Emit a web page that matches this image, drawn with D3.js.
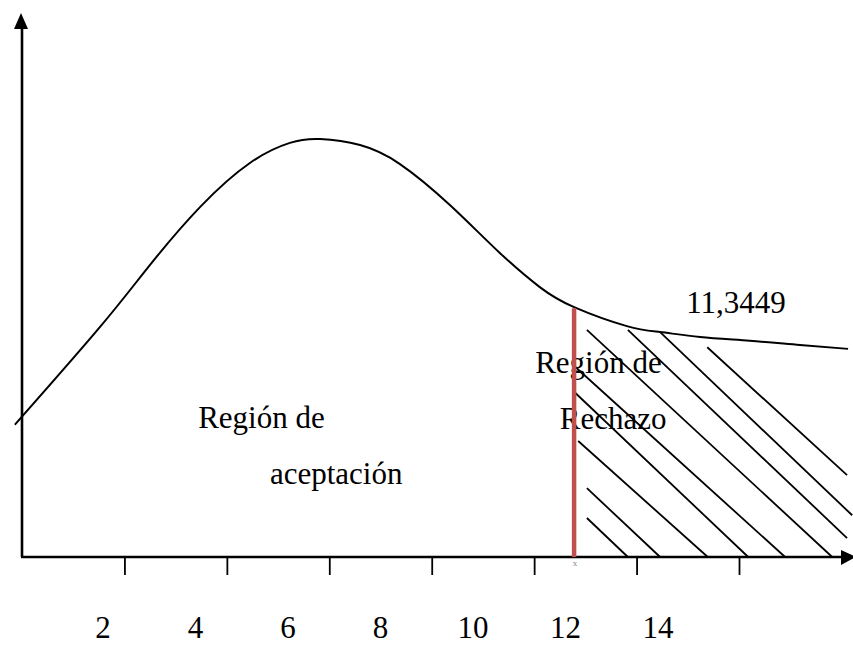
<!DOCTYPE html>
<html>
<head>
<meta charset="utf-8">
<script src="https://cdn.jsdelivr.net/npm/d3@7"></script>
<style>
    body { margin: 0; background: #fff; }
    svg { display: block; }
    text { font-family: "Liberation Serif", "Times New Roman", serif; fill: #000; }
</style>
</head>
<body>
<div id="chart"></div>
<script>
// chart values (x in axis units, y in relative height 0..100)
var tickValues = [2, 4, 6, 8, 10, 12, 14];
var tickLabels = ["2", "4", "6", "8", "10", "12", "14"];

var curveX = [-0.14, 1.52, 2.50, 3.48, 4.45, 5.23, 5.82, 6.60, 7.38, 8.36, 9.33, 10.11, 10.78, 11.81, 12.46, 13.24, 14.21, 15.19, 16.13];
var curveY = [24.4, 42.4, 53.9, 64.6, 72.7, 76.4, 77.1, 76.0, 72.5, 64.9, 56.1, 49.8, 46.1, 42.6, 41.5, 40.6, 39.9, 39.1, 38.4];

var criticalX = 10.78;
var criticalTop = 45.9;

var hatchX1 = [11.03, 11.83, 12.46, 13.38, 10.80, 10.80, 10.86, 11.03, 11.03];
var hatchY1 = [41.9, 41.9, 41.5, 38.7, 35.1, 30.3, 21.4, 12.7, 7.2];
var hatchX2 = [15.82, 16.11, 16.21, 16.11, 14.90, 14.18, 13.39, 12.46, 11.83];
var hatchY2 = [0, 3.5, 7.7, 15.1, 0, 0, 0, 0, 0];

var noteTexts = ["Región de", "aceptación", "Región de", "Rechazo", "11,3449"];
var noteX = [3.44, 4.84, 10.02, 10.50, 12.97];
var noteY = [23.8, 13.5, 33.9, 23.6, 45.0];

(function draw() {
    "use strict";

    var width = 853, height = 645;
    var svg = d3.select("#chart").append("svg")
        .attr("width", width)
        .attr("height", height);

    var x = d3.scaleLinear().domain([0, 14]).range([22, 739]);
    var y = d3.scaleLinear().domain([0, 100]).range([557, 15]);
    var labelX = d3.scaleLinear().domain([2, 14]).range([103, 658]);

    // hatching of the rejection region
    var hatch = d3.range(hatchX1.length);
    svg.append("g").selectAll("line")
        .data(hatch)
        .enter().append("line")
        .attr("x1", function(i) { return x(hatchX1[i]); })
        .attr("y1", function(i) { return y(hatchY1[i]); })
        .attr("x2", function(i) { return x(hatchX2[i]); })
        .attr("y2", function(i) { return y(hatchY2[i]); })
        .attr("stroke", "#000")
        .attr("stroke-width", 1.8);

    // ticks under the x axis
    var axis = d3.axisBottom(x)
        .tickValues(tickValues)
        .tickSize(19)
        .tickFormat("");
    var axisG = svg.append("g")
        .attr("transform", "translate(0," + (y(0) - 1) + ")")
        .call(axis);
    axisG.select(".domain").remove();
    axisG.selectAll(".tick line").attr("stroke", "#000").attr("stroke-width", 1.8);

    // axes with arrow heads
    svg.append("line")
        .attr("x1", x(0)).attr("y1", y(0))
        .attr("x2", x(0)).attr("y2", 26)
        .attr("stroke", "#000").attr("stroke-width", 2.6);
    svg.append("path")
        .attr("d", "M" + (x(0) - 1) + ",13 L" + (x(0) - 8) + ",29 L" + (x(0) + 6) + ",29 Z")
        .attr("fill", "#000");

    svg.append("line")
        .attr("x1", x(0) - 1).attr("y1", y(0))
        .attr("x2", 842).attr("y2", y(0))
        .attr("stroke", "#000").attr("stroke-width", 2.6);
    svg.append("path")
        .attr("d", "M856," + y(0) + " L841," + (y(0) - 7) + " L841," + (y(0) + 8) + " Z")
        .attr("fill", "#000");

    // distribution curve
    var line = d3.line()
        .x(function(i) { return x(curveX[i]); })
        .y(function(i) { return y(curveY[i]); })
        .curve(d3.curveNatural);
    svg.append("path")
        .datum(d3.range(curveX.length))
        .attr("d", line)
        .attr("fill", "none")
        .attr("stroke", "#000")
        .attr("stroke-width", 2);

    // annotations
    svg.append("g").selectAll("text")
        .data(noteTexts)
        .enter().append("text")
        .attr("x", function(d, i) { return x(noteX[i]); })
        .attr("y", function(d, i) { return y(noteY[i]); })
        .style("font-size", "31px")
        .text(function(d) { return d; });

    // critical value line
    svg.append("line")
        .attr("x1", x(criticalX)).attr("y1", y(criticalTop))
        .attr("x2", x(criticalX)).attr("y2", y(0))
        .attr("stroke", "#C0504D")
        .attr("stroke-width", 4.5);
    svg.append("text")
        .attr("x", x(criticalX) + 1).attr("y", y(0) + 9)
        .attr("text-anchor", "middle")
        .style("font-size", "9px")
        .style("fill", "#888")
        .text("x");

    // tick labels
    svg.append("g").selectAll("text")
        .data(tickValues)
        .enter().append("text")
        .attr("x", function(d) { return labelX(d); })
        .attr("y", 638)
        .attr("text-anchor", "middle")
        .style("font-size", "31px")
        .text(function(d, i) { return tickLabels[i]; });
})();
</script>
</body>
</html>
